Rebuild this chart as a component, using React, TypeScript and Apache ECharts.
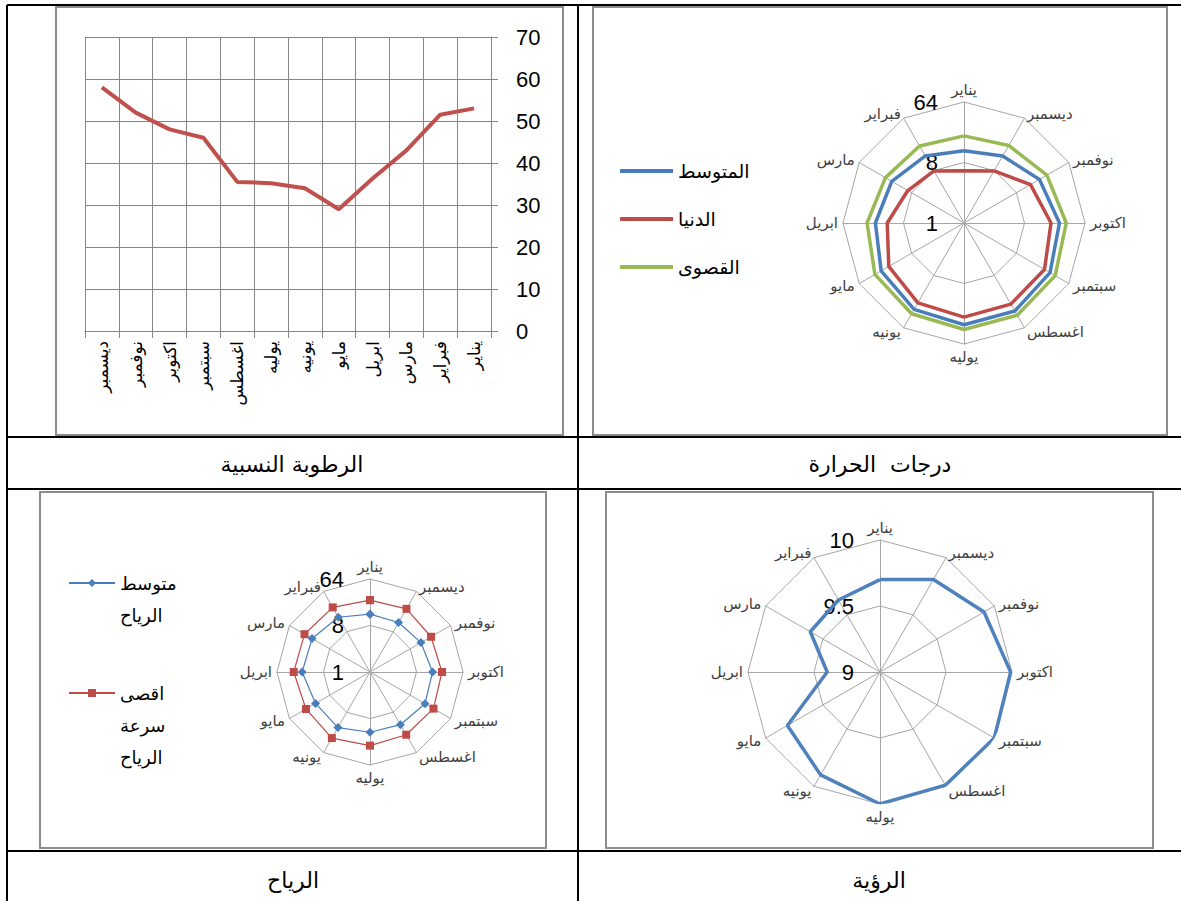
import React, { useEffect, useRef } from 'react';
import * as echarts from 'echarts';

// ---------- data ----------
const radarMonths = ['يناير', 'فبراير', 'مارس', 'ابريل', 'مايو', 'يونيه', 'يوليه', 'اغسطس', 'سبتمبر', 'اكتوبر', 'نوفمبر', 'ديسمبر'];
const humidityMonths = ['ديسمبر', 'نوفمبر', 'اكتوبر', 'سبتمبر', 'اغسطس', 'يوليه', 'يونيه', 'مايو', 'ابريل', 'مارس', 'فبراير', 'يناير'];
const humidity = [58, 52, 48, 46, 35.5, 35.2, 34, 29, 36.3, 43, 51.5, 53];

const tempMeanName = 'المتوسط';
const tempMinName = 'الدنيا';
const tempMaxName = 'القصوى';
const tempMean = [12, 14.3, 17.6, 21, 26.8, 30.9, 33, 32.9, 30.4, 26.6, 20, 14.3];
const tempMin = [6, 7.9, 9.3, 14, 19.8, 23.8, 25.4, 25, 24.4, 19.9, 14, 7.9];
const tempMax = [20, 21.2, 22.6, 28, 34.3, 36.6, 38.9, 38.9, 37.3, 33.6, 26.8, 21.7];

const windMeanName = 'متوسط الرياح';
const windMaxName = 'اقصى سرعة الرياح';
const windMean = [13.3, 16.9, 19.9, 20.8, 16.6, 17.6, 14.8, 15.2, 17.1, 16.4, 13.9, 12.9];
const windMax = [24.9, 28.1, 29.4, 30.3, 27.3, 30.3, 26.9, 25.5, 26.5, 25, 23.4, 26.1];

const visibilityName = 'الرؤية';
const visibility = [9.7, 9.63, 9.61, 9.4, 9.81, 9.9, 10, 9.99, 10, 9.99, 9.91, 9.81];

const captions = ['الرطوبة النسبية', 'درجات  الحرارة', 'الرياح', 'الرؤية'];

const FONT = "'Liberation Sans', 'DejaVu Sans', sans-serif";
const AR_FONT = "'DejaVu Sans', sans-serif";
const GRID_GRAY = '#a6a6a6';
const NAME_GRAY = '#404040';
const BLUE = '#4a7ebb';
const RED = '#be4b48';
const GREEN = '#98b954';

function closedLoop(vals: number[]) {
  const pts: number[][] = vals.map((v, i) => [v, i]);
  pts.push([vals[0], vals.length]);
  return pts;
}

function radarGrid(cx: number, cy: number, r: number) {
  return {
    center: [cx, cy],
    radius: r,
    startAngle: 90,
    splitNumber: 2,
    shape: 'polygon',
    indicator: radarMonths.map((name) => ({ name, min: 0, max: 2, color: NAME_GRAY })),
    axisName: { color: NAME_GRAY, fontSize: 15, fontFamily: AR_FONT },
    axisNameGap: 5,
    splitLine: { lineStyle: { color: GRID_GRAY, width: 1 } },
    splitArea: { show: false },
    axisLine: { lineStyle: { color: GRID_GRAY, width: 1 } },
    axisTick: { show: false },
    axisLabel: { show: false },
    silent: true,
  };
}

function angleAx(polarIndex: number) {
  return {
    polarIndex,
    type: 'value',
    min: 0,
    max: radarMonths.length,
    startAngle: 90,
    clockwise: false,
    axisLine: { show: false },
    axisTick: { show: false },
    axisLabel: { show: false },
    splitLine: { show: false },
  };
}

const radiusLabel = { show: true, fontSize: 22, color: '#000', margin: 26, fontFamily: FONT };

export default function App() {
  const ref = useRef<HTMLDivElement>(null);
  useEffect(() => {
    if (!ref.current) return;
    const chart = echarts.init(ref.current, undefined, { renderer: 'svg' });
    const line = (x1: number, y1: number, x2: number, y2: number) => ({
      type: 'line',
      shape: { x1, y1, x2, y2 },
      style: { stroke: '#000', lineWidth: 2 },
      silent: true,
    });
    const frame = (x: number, y: number, width: number, height: number) => ({
      type: 'rect',
      shape: { x, y, width, height },
      style: { fill: 'none', stroke: '#8c8c8c', lineWidth: 2 },
      silent: true,
    });
    const caption = (x: number, y: number, text: string) => ({
      type: 'text',
      x,
      y,
      style: { text, fontSize: 22, fontFamily: AR_FONT, fill: '#000', align: 'center', verticalAlign: 'middle' },
      silent: true,
    });
    const option: any = {
      animation: false,
      backgroundColor: '#fff',
      graphic: {
        elements: [
          line(7, 5, 1181, 5),
          line(7, 437, 1181, 437),
          line(7, 489, 1181, 489),
          line(7, 851, 1181, 851),
          line(7, 5, 7, 901),
          line(578, 5, 578, 901),
          frame(56, 7, 507, 428),
          frame(593, 7, 574, 428),
          frame(40, 492, 506, 356),
          frame(606, 492, 547, 356),
          caption(292, 464, captions[0]),
          caption(880, 464, captions[1]),
          caption(293, 880, captions[2]),
          caption(879, 880, captions[3]),
        ],
      },
      grid: { left: 85, top: 37, width: 406, height: 294, containLabel: false, outerBoundsMode: 'none' },
      xAxis: {
        type: 'category',
        data: humidityMonths,
        boundaryGap: true,
        axisLine: { lineStyle: { color: '#868686', width: 1 } },
        axisTick: { show: true, length: 7, interval: 0, lineStyle: { color: '#868686' } },
        axisLabel: { rotate: 90, interval: 0, fontSize: 17, color: '#000', margin: 10, fontFamily: AR_FONT },
        splitLine: { show: true, interval: 0, lineStyle: { color: '#868686', width: 1 } },
      },
      yAxis: {
        type: 'value',
        position: 'right',
        min: 0,
        max: 70,
        interval: 10,
        axisLine: { show: true, lineStyle: { color: '#868686', width: 1 } },
        axisTick: { show: true, length: 7, lineStyle: { color: '#868686' } },
        axisLabel: { fontSize: 22, color: '#000', margin: 25, fontFamily: FONT },
        splitLine: { show: true, lineStyle: { color: '#868686', width: 1 } },
      },
      radar: [radarGrid(964, 223, 121), radarGrid(370, 672, 93), radarGrid(880, 672, 132)],
      polar: [
        { center: [964, 223], radius: 121 },
        { center: [370, 672], radius: 93 },
        { center: [880, 672], radius: 132 },
      ],
      angleAxis: [angleAx(0), angleAx(1), angleAx(2)],
      radiusAxis: [
        { polarIndex: 0, type: 'log', logBase: 8, min: 1, max: 64, axisLine: { show: false }, axisTick: { show: false }, splitLine: { show: false }, axisLabel: radiusLabel },
        { polarIndex: 1, type: 'log', logBase: 8, min: 1, max: 64, axisLine: { show: false }, axisTick: { show: false }, splitLine: { show: false }, axisLabel: radiusLabel },
        { polarIndex: 2, type: 'value', min: 9, max: 10, interval: 0.5, axisLine: { show: false }, axisTick: { show: false }, splitLine: { show: false }, axisLabel: radiusLabel },
      ],
      legend: [
        {
          data: [tempMeanName, tempMinName, tempMaxName],
          orient: 'vertical',
          left: 620,
          top: 159,
          padding: 0,
          itemWidth: 53,
          itemHeight: 4,
          itemGap: 24,
          icon: 'rect',
          selectedMode: false,
          textStyle: { fontSize: 19, lineHeight: 24, color: '#000', fontFamily: AR_FONT },
        },
        {
          data: [windMeanName],
          left: 68,
          top: 535,
          padding: 0,
          itemWidth: 46,
          itemHeight: 10,
          selectedMode: false,
          formatter: (n: string) => '\n' + n.split(' ').join('\n'),
          textStyle: { fontSize: 18, lineHeight: 32, color: '#000', fontFamily: AR_FONT },
        },
        {
          data: [windMaxName],
          left: 68,
          top: 613,
          padding: 0,
          itemWidth: 46,
          itemHeight: 10,
          selectedMode: false,
          formatter: (n: string) => '\n\n' + n.split(' ').join('\n'),
          textStyle: { fontSize: 18, lineHeight: 32, color: '#000', fontFamily: AR_FONT },
        },
      ],
      series: [
        {
          type: 'line',
          name: 'humidity',
          xAxisIndex: 0,
          yAxisIndex: 0,
          data: humidity,
          symbol: 'none',
          lineStyle: { color: '#c0504d', width: 4 },
          itemStyle: { color: '#c0504d' },
        },
        {
          type: 'line', name: tempMeanName, coordinateSystem: 'polar', polarIndex: 0,
          data: closedLoop(tempMean), symbol: 'none',
          lineStyle: { color: BLUE, width: 3.5 }, itemStyle: { color: BLUE },
        },
        {
          type: 'line', name: tempMinName, coordinateSystem: 'polar', polarIndex: 0,
          data: closedLoop(tempMin), symbol: 'none',
          lineStyle: { color: RED, width: 3.5 }, itemStyle: { color: RED },
        },
        {
          type: 'line', name: tempMaxName, coordinateSystem: 'polar', polarIndex: 0,
          data: closedLoop(tempMax), symbol: 'none',
          lineStyle: { color: GREEN, width: 3.5 }, itemStyle: { color: GREEN },
        },
        {
          type: 'line', name: windMeanName, coordinateSystem: 'polar', polarIndex: 1,
          data: closedLoop(windMean), symbol: 'diamond', symbolSize: 9, showAllSymbol: true,
          lineStyle: { color: BLUE, width: 1.2 }, itemStyle: { color: BLUE },
        },
        {
          type: 'line', name: windMaxName, coordinateSystem: 'polar', polarIndex: 1,
          data: closedLoop(windMax), symbol: 'rect', symbolSize: 8, showAllSymbol: true,
          lineStyle: { color: RED, width: 1.2 }, itemStyle: { color: RED },
        },
        {
          type: 'line', name: visibilityName, coordinateSystem: 'polar', polarIndex: 2,
          data: closedLoop(visibility), symbol: 'none',
          lineStyle: { color: '#4f81bd', width: 3.5 }, itemStyle: { color: '#4f81bd' },
        },
      ],
    };
    chart.setOption(option);
    return () => chart.dispose();
  }, []);
  return (
    <div
      ref={ref}
      style={{ position: 'absolute', left: 0, top: 0, width: 1181, height: 901, background: '#fff' }}
    />
  );
}
